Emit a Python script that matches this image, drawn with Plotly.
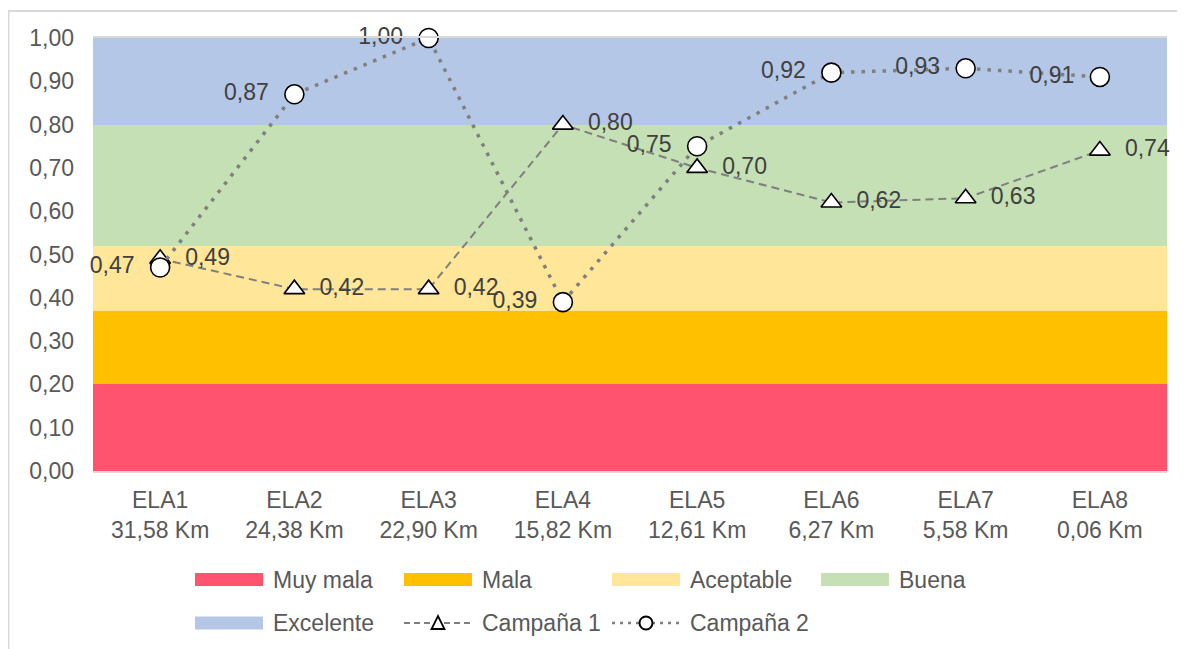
import plotly.graph_objects as go

# ─── Data ────────────────────────────────────────────────────────────
CATEGORIES = ["ELA1<br>31,58 Km", "ELA2<br>24,38 Km", "ELA3<br>22,90 Km", "ELA4<br>15,82 Km",
              "ELA5<br>12,61 Km", "ELA6<br>6,27 Km", "ELA7<br>5,58 Km", "ELA8<br>0,06 Km"]

BAND_NAMES = ["Muy mala", "Mala", "Aceptable", "Buena", "Excelente"]
BAND_LOWER = [0.00, 0.20, 0.37, 0.52, 0.80]
BAND_UPPER = [0.20, 0.37, 0.52, 0.80, 1.00]
BAND_COLORS = ["#FF5370", "#FFC000", "#FFE699", "#C5E0B4", "#B4C7E7"]

CAMPANA_1 = [0.49, 0.42, 0.42, 0.80, 0.70, 0.62, 0.63, 0.74]
CAMPANA_2 = [0.47, 0.87, 1.00, 0.39, 0.75, 0.92, 0.93, 0.91]

Y_TICKS = [0, 0.1, 0.2, 0.3, 0.4, 0.5, 0.6, 0.7, 0.8, 0.9, 1.0]

# ─── Style ───────────────────────────────────────────────────────────
FONT = "Liberation Sans, Arial, sans-serif"
FS = 23
TICK_COLOR = "#595959"
LABEL_COLOR = "#404040"
LINE_GREY = "#7F7F7F"
PAD = "\u00a0\u00a0"  # pushes data labels away from the markers, like Excel

# page body adds 8px, so the figure is 8px smaller than the window
W, H = 1177, 641
M_L, M_T, PLOT_W, PLOT_H = 85, 30, 1074, 433


def px_x(px):
    return (px - M_L) / PLOT_W


def px_y(py):
    return (M_T + PLOT_H - py) / PLOT_H


def fmt(v):
    return f"{v:.2f}".replace(".", ",")


fig = go.Figure()

# Quality bands — full-width stacked bars
for name, lo, hi, color in zip(BAND_NAMES, BAND_LOWER, BAND_UPPER, BAND_COLORS):
    fig.add_trace(go.Bar(
        x=CATEGORIES, y=[hi - lo] * len(CATEGORIES), base=[lo] * len(CATEGORIES),
        name=name,
        marker=dict(color=color, line=dict(width=0)),
        width=1,
        hoverinfo="skip",
    ))

fig.add_trace(go.Scatter(
    x=CATEGORIES, y=CAMPANA_1,
    name="Campaña 1",
    mode="lines+markers+text",
    line=dict(color=LINE_GREY, width=2, dash="8px,5px"),
    marker=dict(symbol="triangle-up", size=18, color="white", line=dict(color="black", width=1.6)),
    text=[PAD + fmt(v) for v in CAMPANA_1],
    textposition="middle right",
    textfont=dict(size=FS, color=LABEL_COLOR, family=FONT),
    cliponaxis=False,
))

fig.add_trace(go.Scatter(
    x=CATEGORIES, y=CAMPANA_2,
    name="Campaña 2",
    mode="lines+markers+text",
    line=dict(color=LINE_GREY, width=3.5, dash="3.5px,7px"),
    marker=dict(symbol="circle", size=19, color="white", line=dict(color="black", width=1.6)),
    text=[fmt(v) + PAD for v in CAMPANA_2],
    textposition="middle left",
    textfont=dict(size=FS, color=LABEL_COLOR, family=FONT),
    cliponaxis=False,
))

# ─── Legend (Excel style: wide swatches, two rows) ───────────────────
COL_X = [187, 396, 604, 813]
ROW_Y = [571.5, 615]
SW_W, SW_H = 68, 13

shapes = [dict(
    type="rect", xref="paper", yref="paper",
    x0=px_x(0.5), x1=px_x(W + 20), y0=px_y(H + 20), y1=px_y(3),
    line=dict(color="#D9D9D9", width=2), fillcolor="rgba(0,0,0,0)", layer="below",
)]
annotations = []

slots = [(r, c) for r in range(2) for c in range(4)]
for (r, c), name, color in zip(slots, BAND_NAMES, BAND_COLORS):
    x0, y = COL_X[c], ROW_Y[r]
    shapes.append(dict(
        type="rect", xref="paper", yref="paper",
        x0=px_x(x0), x1=px_x(x0 + SW_W), y0=px_y(y + SW_H / 2), y1=px_y(y - SW_H / 2),
        line=dict(width=0), fillcolor=color,
    ))
    annotations.append(dict(
        text=name, xref="paper", yref="paper", x=px_x(x0 + SW_W + 8), y=px_y(y),
        xanchor="left", yanchor="middle", showarrow=False,
        font=dict(size=FS, color=TICK_COLOR, family=FONT),
    ))

for (r, c), name, dash in zip(slots[5:], ["Campaña 1", "Campaña 2"], ["6px,4px", "3px,5px"]):
    x0, y = COL_X[c], ROW_Y[r]
    xm = x0 + SW_W / 2
    shapes.append(dict(
        type="line", xref="paper", yref="paper",
        x0=px_x(x0), x1=px_x(x0 + SW_W), y0=px_y(y), y1=px_y(y),
        line=dict(color=LINE_GREY, width=2.5 if c == 2 else 2, dash=dash),
    ))
    if name == "Campaña 1":
        path = (f"M {px_x(xm - 6.5)},{px_y(y + 6)} L {px_x(xm + 6.5)},{px_y(y + 6)} "
                f"L {px_x(xm)},{px_y(y - 7)} Z")
        shapes.append(dict(type="path", xref="paper", yref="paper", path=path,
                           fillcolor="white", line=dict(color="black", width=1.8)))
    else:
        shapes.append(dict(type="circle", xref="paper", yref="paper",
                           x0=px_x(xm - 6.5), x1=px_x(xm + 6.5), y0=px_y(y + 6.5), y1=px_y(y - 6.5),
                           fillcolor="white", line=dict(color="black", width=2)))
    annotations.append(dict(
        text=name, xref="paper", yref="paper", x=px_x(x0 + SW_W + 8), y=px_y(y),
        xanchor="left", yanchor="middle", showarrow=False,
        font=dict(size=FS, color=TICK_COLOR, family=FONT),
    ))

fig.update_layout(
    width=W, height=H,
    paper_bgcolor="white",
    plot_bgcolor="white",
    font=dict(family=FONT, color=TICK_COLOR, size=FS),
    separators=",.",
    margin=dict(l=M_L, r=W - M_L - PLOT_W, t=M_T, b=H - M_T - PLOT_H),
    barmode="stack",
    bargap=0,
    showlegend=False,
    xaxis=dict(
        range=[-0.5, 7.5], showgrid=False, zeroline=False,
        showline=True, mirror=True, linecolor="#D9D9D9", linewidth=1.5,
        ticks="", ticklabelstandoff=8, tickfont=dict(size=FS, color=TICK_COLOR),
    ),
    yaxis=dict(
        range=[0, 1.0], tickvals=Y_TICKS, tickformat=".2f",
        showgrid=False, zeroline=False, showline=False,
        ticks="", ticklabelstandoff=18, tickfont=dict(size=FS, color=TICK_COLOR),
    ),
    shapes=shapes,
    annotations=annotations,
)

fig.write_html("out.html")
